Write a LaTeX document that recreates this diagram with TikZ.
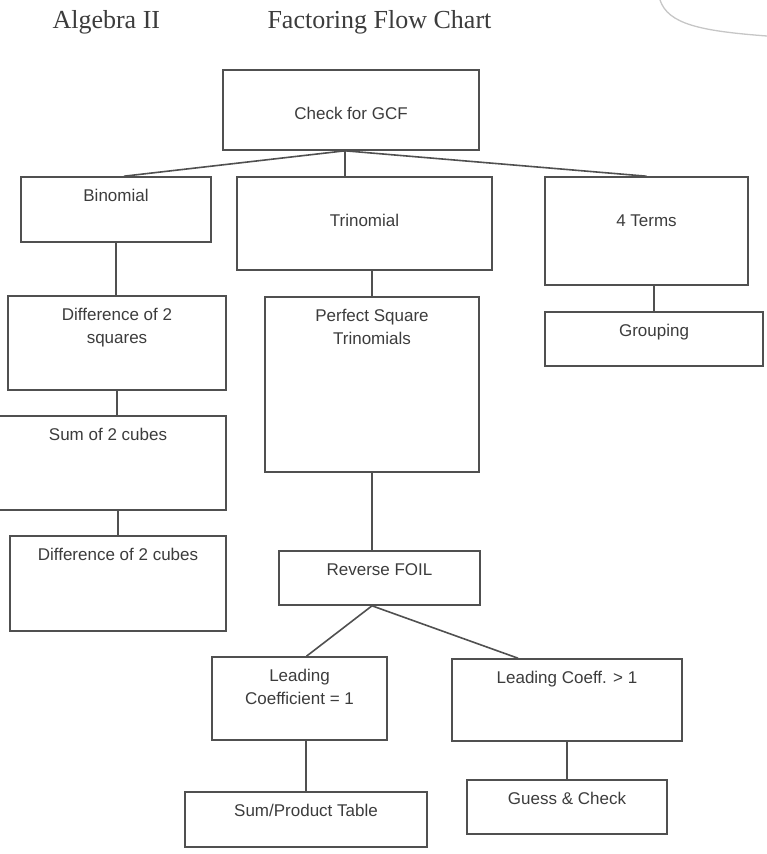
\documentclass[tikz,border=0pt]{standalone}
\usepackage{fontspec}
\setmainfont{Liberation Serif}
\newfontfamily\boxfont{Liberation Sans}
\definecolor{linegray}{HTML}{505050}
\definecolor{inkgray}{HTML}{3c3c3c}

\tikzset{
	box/.style={draw=linegray, line width=1.6pt, inner sep=0pt},
	boxlabel/.style={anchor=north, yshift=-13pt, inner sep=0pt, align=center,
		text=inkgray, font=\boxfont\fontsize{17}{23}\selectfont},
	boxlabel low/.style={boxlabel, yshift=-25pt},
	link/.style={draw=linegray, line width=1.6pt}
}

\begin{document}
\begin{tikzpicture}[x=1pt,y=-1pt]
\useasboundingbox (0,0) rectangle (767,854);

\node[anchor=base west, text=inkgray, font=\fontsize{26}{30}\selectfont] (course) at (49,28) {Algebra II};
\node[anchor=base west, text=inkgray, font=\fontsize{26}{30}\selectfont] (title) at (264,28) {Factoring Flow Chart};

% curled page corner
\draw[gray!45, line width=1.3pt] (660,0) .. controls (668,24) and (700,31) .. (767,36);

\node[box, minimum width=256pt, minimum height=80pt, label={[boxlabel low]north:Check for GCF}] (gcf) at (351,110) {};

\node[box, minimum width=190pt, minimum height=65pt, label={[boxlabel]north:Binomial}] (binom) at (116,209.5) {};
\node[box, minimum width=255pt, minimum height=93pt, label={[boxlabel low]north:Trinomial}] (trinom) at (364.5,223.5) {};
\node[box, minimum width=203pt, minimum height=108pt, label={[boxlabel low]north:4 Terms}] (four) at (646.5,231) {};

\node[box, minimum width=218pt, minimum height=94pt, label={[boxlabel]north:{Difference of 2\\squares}}] (diffsq) at (117,343) {};
\node[box, minimum width=214pt, minimum height=175pt, label={[boxlabel]north:{Perfect Square\\Trinomials}}] (perfect) at (372,384.5) {};
\node[box, minimum width=218pt, minimum height=54pt, label={[boxlabel]north:Grouping}] (grouping) at (654,339) {};

\node[box, minimum width=232pt, minimum height=94pt, label={[boxlabel, xshift=-2pt]north:Sum of 2 cubes}] (sumcubes) at (110,463) {};
\node[box, minimum width=216pt, minimum height=95pt, label={[boxlabel]north:Difference of 2 cubes}] (diffcubes) at (118,583.5) {};

\node[box, minimum width=201pt, minimum height=54pt, label={[boxlabel]north:Reverse FOIL}] (reverse) at (379.5,578) {};

\node[box, minimum width=175pt, minimum height=83pt, label={[boxlabel]north:{Leading\\Coefficient = 1}}] (lead1) at (299.5,698.5) {};
\node[box, minimum width=230pt, minimum height=82pt, label={[boxlabel]north:{Leading Coeff. > 1}}] (lead2) at (567,700) {};

\node[box, minimum width=242pt, minimum height=55pt, label={[boxlabel]north:Sum/Product Table}] (sumprod) at (306,819.5) {};
\node[box, minimum width=200pt, minimum height=54pt, label={[boxlabel]north:Guess \& Check}] (guess) at (567,807) {};

\coordinate (split) at ([xshift=-6pt]gcf.south);
\coordinate (fork) at ([xshift=-7.5pt]reverse.south);

\draw[link] (split) -- (split |- trinom.north);
\foreach \a/\b/\dx in {split/binom/8, split/four/0, fork/lead1/7, fork/lead2/-49}
{
	\draw[link] (\a) -- ([xshift=\dx pt]\b.north);
};

\foreach \a/\b in {binom/diffsq, diffsq/sumcubes, lead2/guess}
{
	\draw[link] (\a.south) -- (\a.south |- \b.north);
};

\foreach \a/\b in {trinom/perfect, four/grouping, sumcubes/diffcubes, lead1/sumprod}
{
	\draw[link] (\b.north |- \a.south) -- (\b.north);
};

\draw[link] (perfect.south) -- (perfect.south |- reverse.north);
\end{tikzpicture}
\end{document}
